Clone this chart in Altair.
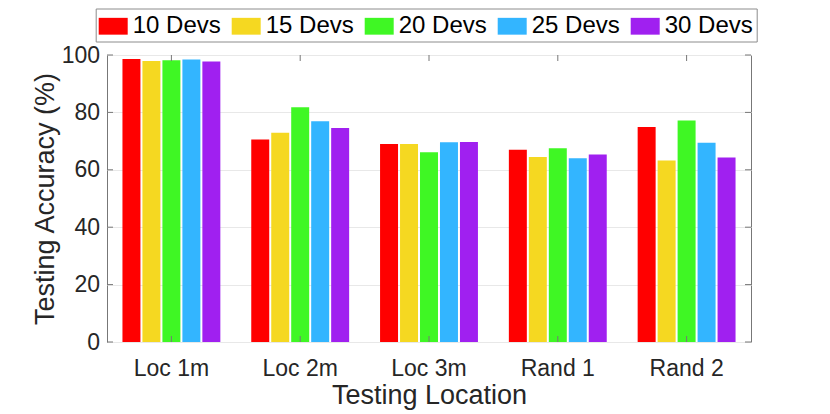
import altair as alt
import pandas as pd

locations = ["Loc 1m", "Loc 2m", "Loc 3m", "Rand 1", "Rand 2"]
series = ["10 Devs", "15 Devs", "20 Devs", "25 Devs", "30 Devs"]
colors = ["#FF0000", "#F5D821", "#3FF724", "#33B5FF", "#A020F0"]
acc_10 = [98.6, 70.6, 69.0, 67.0, 74.9]
acc_15 = [97.9, 72.9, 69.0, 64.5, 63.2]
acc_20 = [98.2, 81.8, 66.1, 67.5, 77.2]
acc_25 = [98.4, 76.9, 69.6, 64.0, 69.4]
acc_30 = [97.7, 74.6, 69.7, 65.3, 64.3]
y_ticks = [0, 20, 40, 60, 80, 100]

values = [acc_10, acc_15, acc_20, acc_25, acc_30]
rows = []
for s, vals in zip(series, values):
    for loc, v in zip(locations, vals):
        rows.append({"Location": loc, "Series": s, "Accuracy": v})
df = pd.DataFrame(rows)
ytick_df = pd.DataFrame({"Accuracy": y_ticks})
xtick_df = pd.DataFrame({"Location": locations})

FRAME = "#777777"
FONT = "Liberation Sans"

x_enc = alt.X(
    "Location:N",
    sort=locations,
    scale=alt.Scale(paddingInner=0.24, paddingOuter=0.12),
    axis=alt.Axis(
        title="Testing Location",
        labelAngle=0,
        labelPadding=33,
        labelBaseline="alphabetic",
        titleBaseline="alphabetic",
        titleX=322,
        titleY=61,
        grid=False,
    ),
)
y_enc = alt.Y(
    "Accuracy:Q",
    scale=alt.Scale(domain=[0, 100], nice=False),
    axis=alt.Axis(
        title="Testing Accuracy (%)",
        values=y_ticks,
        grid=True,
        labelPadding=7.5,
        titleBaseline="alphabetic",
        titleX=-54,
        titleY=143.5,
    ),
)

bars = alt.Chart(df).mark_bar().encode(
    x=x_enc,
    xOffset=alt.XOffset("Series:N", sort=series,
                        scale=alt.Scale(paddingInner=0.1, paddingOuter=0)),
    y=y_enc,
    color=alt.Color(
        "Series:N",
        sort=series,
        scale=alt.Scale(domain=series, range=colors),
        legend=alt.Legend(
            title=None,
            orient="none",
            legendX=-11.3,
            legendY=-46.5,
            direction="horizontal",
            columns=5,
            symbolType="M-1,-0.58H1V0.58H-1Z",
            symbolSize=841,
            symbolStrokeWidth=0,
            symbolOpacity=1,
            labelFontSize=24,
            labelFont=FONT,
            labelColor="black",
            labelOffset=5,
            columnPadding=10,
            padding=3,
            strokeColor="#8c8c8c",
            fillColor="white",
        ),
    ),
)

left_ticks = alt.Chart(ytick_df).mark_rule(color=FRAME).encode(
    y=alt.Y("Accuracy:Q"), x=alt.value(0), x2=alt.value(6)
)
right_ticks = alt.Chart(ytick_df).mark_rule(color=FRAME).encode(
    y=alt.Y("Accuracy:Q"), x=alt.value(644), x2=alt.value(638)
)
top_ticks = alt.Chart(xtick_df).mark_rule(color=FRAME).encode(
    x=alt.X("Location:N", sort=locations), y=alt.value(0), y2=alt.value(6)
)
bottom_ticks = alt.Chart(xtick_df).mark_rule(color=FRAME).encode(
    x=alt.X("Location:N", sort=locations), y=alt.value(287), y2=alt.value(281)
)

chart = alt.layer(bars, left_ticks, right_ticks, top_ticks, bottom_ticks).properties(
    width=644,
    height=287,
    padding={"left": 99, "top": 47, "right": 70, "bottom": 68},
    autosize=alt.AutoSizeParams(type="none"),
).configure_view(
    stroke=FRAME, strokeWidth=1
).configure_axis(
    labelFont=FONT,
    titleFont=FONT,
    labelColor="#262626",
    titleColor="#262626",
    labelFontSize=23,
    titleFontSize=27,
    titleFontWeight="normal",
    domain=False,
    ticks=False,
    gridColor="#e8e8e8",
    gridWidth=1,
)

chart.save("out.html", embed_options={"renderer": "svg", "actions": False})
